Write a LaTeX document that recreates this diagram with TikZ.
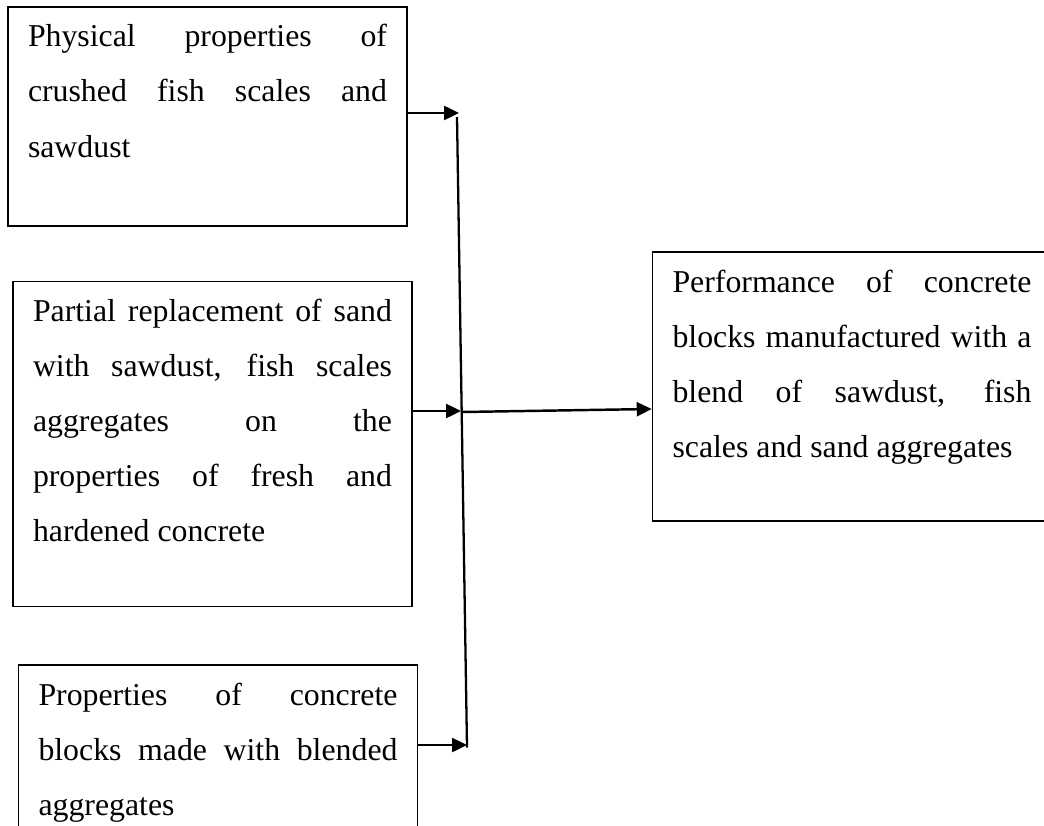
\documentclass[tikz,border=0pt]{standalone}
\usepackage{fontspec}
\setmainfont{Liberation Serif}
\usetikzlibrary{arrows.meta}
\tikzstyle{boxes} = [rectangle, draw=black, line width=0.9pt, text width=7.18cm, inner xsep=0.4cm,
inner ysep=0pt, align=justify, text height=0.8cm,
font={\fontsize{18.1}{31.3}\selectfont\tolerance=10000\hbadness=10000\hyphenpenalty=10000}]
\tikzstyle{arrow} = [line width=1.4pt, -{Triangle[length=0.3cm, width=0.28cm]}]
\tikzstyle{trunk} = [line width=1.3pt]

\begin{document}
\begin{tikzpicture}

    \useasboundingbox (0,0) rectangle (20.88,-16.52);

    \node (phys) [boxes, text depth=3.58cm] at (4.15,-2.33) {Physical properties of\linebreak crushed fish scales and\linebreak sawdust};
    \node (partial) [boxes, text depth=5.7cm, below of=phys, yshift=-5.55cm, xshift=0.1cm] {Partial replacement of sand\linebreak with sawdust, fish scales\linebreak aggregates on the\linebreak properties of fresh and\linebreak hardened concrete};
    \node (blocks) [boxes, text depth=3.58cm, below of=partial, yshift=-5.61cm, xshift=0.11cm] {Properties of concrete\linebreak blocks made with blended\linebreak aggregates};

    \node (perf) [boxes, text depth=4.58cm, right of=partial, xshift=11.79cm, yshift=1.15cm] {Performance of concrete\linebreak blocks manufactured with a\linebreak blend of sawdust, fish\linebreak scales and sand aggregates};

    \coordinate (tTop) at (9.14,-2.34);
    \coordinate (tBot) at (9.34,-14.95);
    \coordinate (in1) at (9.18,-2.26);
    \coordinate (in2) at (9.22,-8.22);
    \coordinate (in3) at (9.34,-14.9);
    \coordinate (out) at (9.24,-8.24);

    \draw[trunk] (tTop) -- (tBot);

    \draw[arrow] (phys.east |- in1) -- (in1);
    \draw[arrow] (partial.east |- in2) -- (in2);
    \draw[arrow] (blocks.east |- in3) -- (in3);

    \draw[arrow] (out) -- ([yshift=-0.45cm]perf.west);

\end{tikzpicture}
\end{document}
